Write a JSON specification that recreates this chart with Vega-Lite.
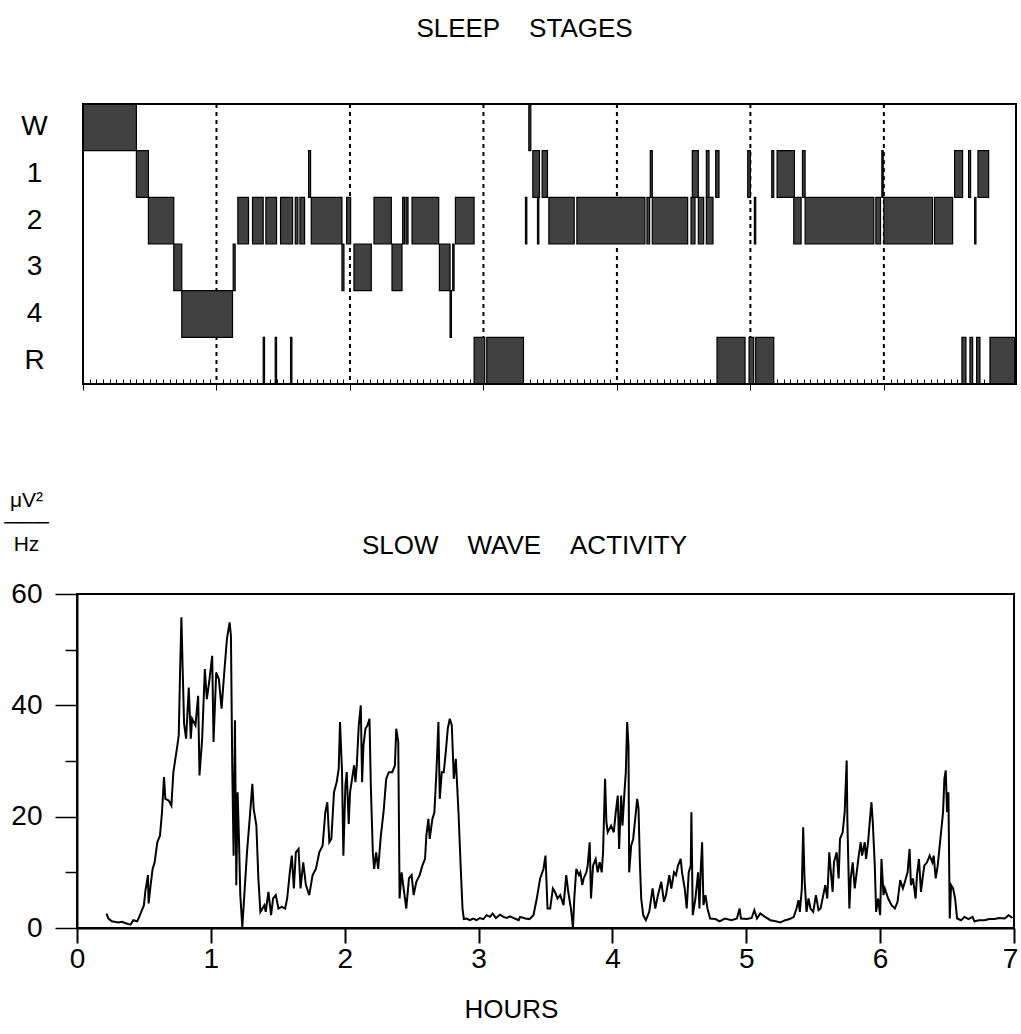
{
  "$schema": "https://vega.github.io/schema/vega-lite/v6.json",
  "padding": {"left": 2, "top": 16, "right": 2, "bottom": 5},
  "background": "white",
  "spacing": 97,
  "config": {
    "font": "Liberation Sans",
    "axis": {"labelColor": "black", "tickColor": "black", "domainColor": "black", "titleColor": "black", "labelFont": "Liberation Sans", "titleFont": "Liberation Sans", "titleFontWeight": "normal", "grid": false},
    "title": {"color": "black", "fontWeight": "normal", "font": "Liberation Sans"}
  },
  "vconcat": [
    {
      "width": 939,
      "height": 280,
      "view": {"stroke": null},
      "title": {"text": "SLEEP\u00a0\u00a0\u00a0\u00a0STAGES", "fontSize": 26, "baseline": "alphabetic", "offset": 40, "dx": -22, "anchor": "middle"},
      "layer": [
        {
          "data": {"values": [{"hour": 1}, {"hour": 2}, {"hour": 3}, {"hour": 4}, {"hour": 5}, {"hour": 6}]},
          "mark": {"type": "rule", "color": "black", "strokeWidth": 2, "strokeDash": [4, 4]},
          "encoding": {"x": {"field": "hour", "type": "quantitative"}}
        },
        {
          "data": {"values": [
            {"stage": "W", "start": 0.0, "end": 0.40},
            {"stage": "1", "start": 0.40, "end": 0.49},
            {"stage": "2", "start": 0.49, "end": 0.68},
            {"stage": "3", "start": 0.68, "end": 0.74},
            {"stage": "4", "start": 0.74, "end": 1.12},
            {"stage": "3", "start": 1.125, "end": 1.14},
            {"stage": "2", "start": 1.16, "end": 1.24},
            {"stage": "2", "start": 1.27, "end": 1.35},
            {"stage": "2", "start": 1.37, "end": 1.45},
            {"stage": "2", "start": 1.48, "end": 1.57},
            {"stage": "2", "start": 1.59, "end": 1.61},
            {"stage": "2", "start": 1.625, "end": 1.66},
            {"stage": "R", "start": 1.35, "end": 1.36},
            {"stage": "R", "start": 1.44, "end": 1.45},
            {"stage": "R", "start": 1.555, "end": 1.565},
            {"stage": "1", "start": 1.69, "end": 1.705},
            {"stage": "2", "start": 1.71, "end": 1.94},
            {"stage": "3", "start": 1.94, "end": 1.955},
            {"stage": "2", "start": 1.975, "end": 2.005},
            {"stage": "3", "start": 2.03, "end": 2.16},
            {"stage": "2", "start": 2.18, "end": 2.31},
            {"stage": "3", "start": 2.315, "end": 2.39},
            {"stage": "2", "start": 2.395, "end": 2.41},
            {"stage": "2", "start": 2.42, "end": 2.435},
            {"stage": "2", "start": 2.465, "end": 2.665},
            {"stage": "3", "start": 2.67, "end": 2.75},
            {"stage": "4", "start": 2.75, "end": 2.76},
            {"stage": "3", "start": 2.77, "end": 2.78},
            {"stage": "2", "start": 2.79, "end": 2.93},
            {"stage": "R", "start": 2.93, "end": 3.01},
            {"stage": "R", "start": 3.025, "end": 3.30},
            {"stage": "2", "start": 3.315, "end": 3.325},
            {"stage": "W", "start": 3.34, "end": 3.355},
            {"stage": "1", "start": 3.37, "end": 3.42},
            {"stage": "2", "start": 3.405, "end": 3.415},
            {"stage": "1", "start": 3.44, "end": 3.48},
            {"stage": "2", "start": 3.49, "end": 3.68},
            {"stage": "2", "start": 3.70, "end": 4.21},
            {"stage": "2", "start": 4.225, "end": 4.245},
            {"stage": "1", "start": 4.25, "end": 4.265},
            {"stage": "2", "start": 4.265, "end": 4.53},
            {"stage": "2", "start": 4.555, "end": 4.585},
            {"stage": "1", "start": 4.565, "end": 4.61},
            {"stage": "2", "start": 4.61, "end": 4.65},
            {"stage": "1", "start": 4.67, "end": 4.69},
            {"stage": "2", "start": 4.67, "end": 4.72},
            {"stage": "1", "start": 4.74, "end": 4.765},
            {"stage": "R", "start": 4.75, "end": 4.96},
            {"stage": "1", "start": 4.98, "end": 5.0},
            {"stage": "R", "start": 4.99, "end": 5.025},
            {"stage": "2", "start": 5.03, "end": 5.04},
            {"stage": "R", "start": 5.04, "end": 5.175},
            {"stage": "1", "start": 5.16, "end": 5.175},
            {"stage": "1", "start": 5.20, "end": 5.33},
            {"stage": "2", "start": 5.325, "end": 5.38},
            {"stage": "1", "start": 5.39, "end": 5.41},
            {"stage": "2", "start": 5.41, "end": 5.925},
            {"stage": "2", "start": 5.94, "end": 5.975},
            {"stage": "1", "start": 5.985, "end": 5.995},
            {"stage": "2", "start": 6.0, "end": 6.365},
            {"stage": "2", "start": 6.38, "end": 6.515},
            {"stage": "1", "start": 6.53, "end": 6.59},
            {"stage": "R", "start": 6.585, "end": 6.615},
            {"stage": "1", "start": 6.635, "end": 6.65},
            {"stage": "R", "start": 6.645, "end": 6.665},
            {"stage": "2", "start": 6.68, "end": 6.69},
            {"stage": "R", "start": 6.695, "end": 6.72},
            {"stage": "1", "start": 6.705, "end": 6.785},
            {"stage": "R", "start": 6.795, "end": 6.98}
          ]},
          "mark": {"type": "rect", "fill": "#404040", "stroke": "black", "strokeWidth": 1.2},
          "encoding": {
            "x": {"field": "start", "type": "quantitative", "scale": {"domain": [-0.045, 6.99], "nice": false, "zero": false},
              "axis": {"title": null, "labels": false, "domain": false, "tickCount": 150, "tickWidth": 1,
                "tickSize": {"condition": {"test": "abs(datum.value - round(datum.value)) < 0.001", "value": 6}, "value": -5}}},
            "x2": {"field": "end"},
            "y": {"field": "stage", "type": "nominal", "scale": {"domain": ["W", "1", "2", "3", "4", "R"], "paddingInner": 0, "paddingOuter": 0},
              "axis": {"title": null, "ticks": false, "domain": false, "labelFontSize": 28, "labelAlign": "center", "labelPadding": 43}}
          }
        },
        {
          "data": {"values": [{}]},
          "mark": {"type": "rect", "fill": null, "stroke": "black", "strokeWidth": 2},
          "encoding": {"x": {"datum": 0}, "x2": {"datum": 6.99}}
        }
      ]
    },
    {
      "width": 937,
      "height": 334,
      "view": {"stroke": "black", "strokeWidth": 2},
      "title": {"text": "SLOW\u00a0\u00a0\u00a0\u00a0WAVE\u00a0\u00a0\u00a0\u00a0ACTIVITY", "fontSize": 26, "baseline": "alphabetic", "offset": -91, "dx": -21, "anchor": "middle"},
      "data": {"values": [
        {"h": 0.22, "v": 2.6}, {"h": 0.235, "v": 1.7}, {"h": 0.26, "v": 1.2}, {"h": 0.31, "v": 1.0}, {"h": 0.335, "v": 1.1},
        {"h": 0.37, "v": 0.8}, {"h": 0.40, "v": 0.6}, {"h": 0.42, "v": 1.4}, {"h": 0.45, "v": 1.2}, {"h": 0.47, "v": 2.3},
        {"h": 0.50, "v": 4.1}, {"h": 0.51, "v": 6.5}, {"h": 0.53, "v": 9.5}, {"h": 0.535, "v": 4.4}, {"h": 0.55, "v": 7.7},
        {"h": 0.565, "v": 10.6}, {"h": 0.58, "v": 11.8}, {"h": 0.60, "v": 15.4}, {"h": 0.62, "v": 16.6}, {"h": 0.635, "v": 20.8},
        {"h": 0.65, "v": 27.1}, {"h": 0.66, "v": 23.2}, {"h": 0.685, "v": 22.9}, {"h": 0.705, "v": 22.0}, {"h": 0.72, "v": 28.0},
        {"h": 0.75, "v": 32.8}, {"h": 0.76, "v": 34.6}, {"h": 0.77, "v": 45.9}, {"h": 0.78, "v": 55.8}, {"h": 0.79, "v": 45.9},
        {"h": 0.80, "v": 36.7}, {"h": 0.815, "v": 34.0}, {"h": 0.835, "v": 43.2}, {"h": 0.85, "v": 34.0}, {"h": 0.86, "v": 37.6},
        {"h": 0.885, "v": 36.4}, {"h": 0.905, "v": 41.7}, {"h": 0.915, "v": 27.4}, {"h": 0.935, "v": 34.0}, {"h": 0.955, "v": 46.5},
        {"h": 0.97, "v": 41.1}, {"h": 0.99, "v": 44.7}, {"h": 1.01, "v": 48.9}, {"h": 1.02, "v": 33.4}, {"h": 1.04, "v": 45.9},
        {"h": 1.06, "v": 44.7}, {"h": 1.08, "v": 39.4}, {"h": 1.10, "v": 45.9}, {"h": 1.12, "v": 51.9}, {"h": 1.14, "v": 54.9},
        {"h": 1.15, "v": 52.5}, {"h": 1.16, "v": 28.6}, {"h": 1.17, "v": 13.0}, {"h": 1.18, "v": 37.3}, {"h": 1.19, "v": 7.7},
        {"h": 1.20, "v": 24.4}, {"h": 1.21, "v": 16.0}, {"h": 1.22, "v": 5.9}, {"h": 1.235, "v": 0.2}, {"h": 1.25, "v": 5.9},
        {"h": 1.27, "v": 13.6}, {"h": 1.29, "v": 19.6}, {"h": 1.31, "v": 25.9}, {"h": 1.32, "v": 21.4}, {"h": 1.34, "v": 18.4},
        {"h": 1.355, "v": 8.9}, {"h": 1.37, "v": 2.9}, {"h": 1.40, "v": 4.1}, {"h": 1.41, "v": 2.9}, {"h": 1.43, "v": 6.5},
        {"h": 1.45, "v": 2.3}, {"h": 1.465, "v": 5.3}, {"h": 1.485, "v": 5.9}, {"h": 1.505, "v": 3.5}, {"h": 1.53, "v": 3.8},
        {"h": 1.555, "v": 3.5}, {"h": 1.57, "v": 5.3}, {"h": 1.59, "v": 10.0}, {"h": 1.605, "v": 13.0}, {"h": 1.62, "v": 7.1},
        {"h": 1.635, "v": 13.6}, {"h": 1.655, "v": 14.2}, {"h": 1.67, "v": 7.1}, {"h": 1.69, "v": 11.8}, {"h": 1.71, "v": 7.7},
        {"h": 1.735, "v": 5.9}, {"h": 1.76, "v": 9.5}, {"h": 1.785, "v": 10.6}, {"h": 1.81, "v": 13.6}, {"h": 1.835, "v": 14.8},
        {"h": 1.855, "v": 20.8}, {"h": 1.87, "v": 22.6}, {"h": 1.885, "v": 15.4}, {"h": 1.90, "v": 16.0}, {"h": 1.92, "v": 24.4},
        {"h": 1.94, "v": 26.2}, {"h": 1.955, "v": 28.6}, {"h": 1.965, "v": 37.0}, {"h": 1.98, "v": 28.0}, {"h": 1.99, "v": 13.0},
        {"h": 2.005, "v": 25.6}, {"h": 2.015, "v": 28.0}, {"h": 2.03, "v": 18.7}, {"h": 2.04, "v": 24.4}, {"h": 2.055, "v": 26.8},
        {"h": 2.07, "v": 29.2}, {"h": 2.08, "v": 26.2}, {"h": 2.09, "v": 29.2}, {"h": 2.105, "v": 36.4}, {"h": 2.12, "v": 40.0},
        {"h": 2.13, "v": 26.2}, {"h": 2.14, "v": 32.8}, {"h": 2.155, "v": 35.8}, {"h": 2.17, "v": 36.4}, {"h": 2.185, "v": 37.6},
        {"h": 2.195, "v": 25.6}, {"h": 2.21, "v": 13.6}, {"h": 2.22, "v": 10.6}, {"h": 2.235, "v": 13.6}, {"h": 2.25, "v": 10.6},
        {"h": 2.27, "v": 16.6}, {"h": 2.29, "v": 20.8}, {"h": 2.31, "v": 26.8}, {"h": 2.33, "v": 28.0}, {"h": 2.355, "v": 28.0},
        {"h": 2.375, "v": 29.2}, {"h": 2.385, "v": 35.8}, {"h": 2.40, "v": 33.4}, {"h": 2.41, "v": 5.3}, {"h": 2.425, "v": 10.0},
        {"h": 2.44, "v": 7.1}, {"h": 2.46, "v": 3.5}, {"h": 2.48, "v": 8.9}, {"h": 2.50, "v": 9.5}, {"h": 2.515, "v": 5.9},
        {"h": 2.535, "v": 8.3}, {"h": 2.56, "v": 9.5}, {"h": 2.58, "v": 11.2}, {"h": 2.60, "v": 12.4}, {"h": 2.61, "v": 16.6},
        {"h": 2.625, "v": 19.6}, {"h": 2.635, "v": 16.0}, {"h": 2.655, "v": 19.6}, {"h": 2.67, "v": 20.8}, {"h": 2.685, "v": 28.0},
        {"h": 2.70, "v": 37.0}, {"h": 2.71, "v": 23.2}, {"h": 2.725, "v": 28.0}, {"h": 2.74, "v": 28.0}, {"h": 2.755, "v": 31.6},
        {"h": 2.77, "v": 35.8}, {"h": 2.785, "v": 37.6}, {"h": 2.80, "v": 36.4}, {"h": 2.815, "v": 26.8}, {"h": 2.83, "v": 30.4},
        {"h": 2.85, "v": 20.8}, {"h": 2.865, "v": 11.8}, {"h": 2.88, "v": 3.5}, {"h": 2.89, "v": 1.6}, {"h": 2.91, "v": 1.7},
        {"h": 2.935, "v": 1.4}, {"h": 2.96, "v": 1.7}, {"h": 2.985, "v": 1.4}, {"h": 3.01, "v": 1.8}, {"h": 3.035, "v": 1.6},
        {"h": 3.06, "v": 2.3}, {"h": 3.085, "v": 2.0}, {"h": 3.105, "v": 2.6}, {"h": 3.13, "v": 1.8}, {"h": 3.16, "v": 2.4},
        {"h": 3.185, "v": 2.0}, {"h": 3.21, "v": 1.8}, {"h": 3.235, "v": 2.1}, {"h": 3.27, "v": 1.7}, {"h": 3.30, "v": 1.4},
        {"h": 3.31, "v": 2.0}, {"h": 3.35, "v": 1.7}, {"h": 3.38, "v": 1.6}, {"h": 3.41, "v": 2.3}, {"h": 3.435, "v": 5.3},
        {"h": 3.46, "v": 8.9}, {"h": 3.485, "v": 10.6}, {"h": 3.50, "v": 13.0}, {"h": 3.515, "v": 3.5}, {"h": 3.535, "v": 3.5},
        {"h": 3.555, "v": 7.1}, {"h": 3.57, "v": 6.5}, {"h": 3.59, "v": 5.3}, {"h": 3.61, "v": 5.9}, {"h": 3.635, "v": 4.1},
        {"h": 3.655, "v": 9.5}, {"h": 3.67, "v": 6.5}, {"h": 3.69, "v": 3.5}, {"h": 3.705, "v": 0.0}, {"h": 3.715, "v": 5.3},
        {"h": 3.73, "v": 10.6}, {"h": 3.75, "v": 9.5}, {"h": 3.76, "v": 10.0}, {"h": 3.775, "v": 7.7}, {"h": 3.785, "v": 8.9},
        {"h": 3.805, "v": 10.0}, {"h": 3.815, "v": 11.2}, {"h": 3.83, "v": 15.4}, {"h": 3.84, "v": 5.3}, {"h": 3.855, "v": 11.2},
        {"h": 3.875, "v": 12.4}, {"h": 3.89, "v": 10.0}, {"h": 3.905, "v": 11.8}, {"h": 3.92, "v": 10.0}, {"h": 3.93, "v": 13.6},
        {"h": 3.945, "v": 26.8}, {"h": 3.955, "v": 19.0}, {"h": 3.965, "v": 17.2}, {"h": 3.99, "v": 18.4}, {"h": 4.01, "v": 17.2},
        {"h": 4.025, "v": 20.8}, {"h": 4.04, "v": 23.8}, {"h": 4.05, "v": 14.2}, {"h": 4.065, "v": 23.8}, {"h": 4.075, "v": 18.4},
        {"h": 4.09, "v": 24.4}, {"h": 4.10, "v": 28.0}, {"h": 4.11, "v": 37.0}, {"h": 4.12, "v": 32.8}, {"h": 4.125, "v": 10.0},
        {"h": 4.14, "v": 14.8}, {"h": 4.155, "v": 16.0}, {"h": 4.17, "v": 19.6}, {"h": 4.185, "v": 23.2}, {"h": 4.195, "v": 21.4},
        {"h": 4.205, "v": 11.8}, {"h": 4.215, "v": 5.3}, {"h": 4.23, "v": 2.3}, {"h": 4.25, "v": 1.4}, {"h": 4.275, "v": 2.9},
        {"h": 4.30, "v": 7.1}, {"h": 4.32, "v": 3.5}, {"h": 4.34, "v": 5.9}, {"h": 4.365, "v": 8.3}, {"h": 4.385, "v": 4.7},
        {"h": 4.40, "v": 5.9}, {"h": 4.425, "v": 9.5}, {"h": 4.44, "v": 7.1}, {"h": 4.46, "v": 10.0}, {"h": 4.475, "v": 9.5},
        {"h": 4.49, "v": 11.2}, {"h": 4.51, "v": 12.4}, {"h": 4.52, "v": 10.0}, {"h": 4.54, "v": 7.1}, {"h": 4.555, "v": 3.5},
        {"h": 4.57, "v": 10.0}, {"h": 4.585, "v": 11.2}, {"h": 4.59, "v": 20.8}, {"h": 4.60, "v": 2.3}, {"h": 4.62, "v": 5.3},
        {"h": 4.64, "v": 10.0}, {"h": 4.65, "v": 3.5}, {"h": 4.66, "v": 10.6}, {"h": 4.67, "v": 15.4}, {"h": 4.68, "v": 4.1},
        {"h": 4.695, "v": 5.9}, {"h": 4.71, "v": 3.5}, {"h": 4.73, "v": 1.7}, {"h": 4.77, "v": 1.6}, {"h": 4.80, "v": 1.2},
        {"h": 4.84, "v": 1.7}, {"h": 4.89, "v": 1.4}, {"h": 4.93, "v": 1.7}, {"h": 4.95, "v": 3.5}, {"h": 4.96, "v": 1.7},
        {"h": 5.005, "v": 1.6}, {"h": 5.04, "v": 1.8}, {"h": 5.06, "v": 3.2}, {"h": 5.08, "v": 1.7}, {"h": 5.105, "v": 2.6},
        {"h": 5.14, "v": 2.0}, {"h": 5.18, "v": 1.4}, {"h": 5.22, "v": 1.2}, {"h": 5.255, "v": 1.0}, {"h": 5.29, "v": 1.4},
        {"h": 5.325, "v": 1.6}, {"h": 5.355, "v": 2.0}, {"h": 5.375, "v": 3.5}, {"h": 5.39, "v": 5.0}, {"h": 5.40, "v": 2.9},
        {"h": 5.415, "v": 7.1}, {"h": 5.425, "v": 18.1}, {"h": 5.435, "v": 8.9}, {"h": 5.45, "v": 2.9}, {"h": 5.465, "v": 5.3},
        {"h": 5.48, "v": 3.5}, {"h": 5.50, "v": 2.9}, {"h": 5.52, "v": 5.9}, {"h": 5.54, "v": 3.2}, {"h": 5.555, "v": 3.5},
        {"h": 5.575, "v": 5.9}, {"h": 5.59, "v": 7.7}, {"h": 5.605, "v": 5.3}, {"h": 5.62, "v": 13.6}, {"h": 5.63, "v": 10.6},
        {"h": 5.645, "v": 6.5}, {"h": 5.655, "v": 11.8}, {"h": 5.675, "v": 13.6}, {"h": 5.69, "v": 8.9}, {"h": 5.70, "v": 16.0},
        {"h": 5.72, "v": 17.2}, {"h": 5.735, "v": 20.8}, {"h": 5.75, "v": 30.1}, {"h": 5.755, "v": 19.6}, {"h": 5.77, "v": 3.5},
        {"h": 5.78, "v": 8.9}, {"h": 5.795, "v": 11.8}, {"h": 5.81, "v": 7.1}, {"h": 5.825, "v": 10.0}, {"h": 5.84, "v": 13.0},
        {"h": 5.855, "v": 15.4}, {"h": 5.865, "v": 13.0}, {"h": 5.885, "v": 15.4}, {"h": 5.895, "v": 12.4}, {"h": 5.91, "v": 15.4},
        {"h": 5.92, "v": 18.4}, {"h": 5.935, "v": 22.6}, {"h": 5.945, "v": 19.0}, {"h": 5.96, "v": 11.2}, {"h": 5.97, "v": 2.9},
        {"h": 5.985, "v": 5.3}, {"h": 6.00, "v": 2.3}, {"h": 6.01, "v": 12.4}, {"h": 6.025, "v": 5.9}, {"h": 6.035, "v": 7.1},
        {"h": 6.06, "v": 5.3}, {"h": 6.085, "v": 4.1}, {"h": 6.11, "v": 3.5}, {"h": 6.13, "v": 4.7}, {"h": 6.15, "v": 8.6},
        {"h": 6.17, "v": 7.1}, {"h": 6.185, "v": 8.3}, {"h": 6.205, "v": 10.0}, {"h": 6.22, "v": 14.2}, {"h": 6.23, "v": 7.7},
        {"h": 6.245, "v": 8.9}, {"h": 6.265, "v": 5.3}, {"h": 6.275, "v": 9.5}, {"h": 6.29, "v": 12.4}, {"h": 6.305, "v": 6.5},
        {"h": 6.32, "v": 9.5}, {"h": 6.33, "v": 11.2}, {"h": 6.35, "v": 11.8}, {"h": 6.37, "v": 13.0}, {"h": 6.39, "v": 11.8},
        {"h": 6.40, "v": 13.0}, {"h": 6.415, "v": 8.9}, {"h": 6.43, "v": 11.2}, {"h": 6.44, "v": 13.6}, {"h": 6.455, "v": 17.2},
        {"h": 6.47, "v": 20.8}, {"h": 6.48, "v": 26.8}, {"h": 6.49, "v": 28.3}, {"h": 6.50, "v": 20.8}, {"h": 6.51, "v": 24.4},
        {"h": 6.52, "v": 1.7}, {"h": 6.53, "v": 7.7}, {"h": 6.545, "v": 7.1}, {"h": 6.56, "v": 5.3}, {"h": 6.575, "v": 1.7},
        {"h": 6.605, "v": 1.4}, {"h": 6.63, "v": 2.0}, {"h": 6.66, "v": 1.6}, {"h": 6.69, "v": 2.0}, {"h": 6.705, "v": 1.2},
        {"h": 6.74, "v": 1.4}, {"h": 6.78, "v": 1.4}, {"h": 6.815, "v": 1.6}, {"h": 6.855, "v": 1.6}, {"h": 6.89, "v": 1.8},
        {"h": 6.93, "v": 1.7}, {"h": 6.96, "v": 2.3}, {"h": 6.99, "v": 1.8}
      ]},
      "mark": {"type": "line", "color": "black", "strokeWidth": 2},
      "encoding": {
        "x": {"field": "h", "type": "quantitative", "scale": {"domain": [0, 7], "nice": false},
          "axis": {"values": [0, 1, 2, 3, 4, 5, 6, 7], "title": "HOURS", "titleFontSize": 26, "titleX": 434, "titleY": 89, "titleBaseline": "alphabetic", "titleAlign": "center", "titleAnchor": null,
            "tickSize": 15, "tickWidth": 2, "domainWidth": 2, "labelFontSize": 28, "labelPadding": 2, "labelFlush": false,
            "labelOffset": {"condition": {"test": "datum.value === 7", "value": -4}, "value": 0}}},
        "y": {"field": "v", "type": "quantitative", "scale": {"domain": [0, 60], "nice": false},
          "axis": {"values": [0, 10, 20, 30, 40, 50, 60], "labelExpr": "datum.value % 20 === 0 ? datum.label : ''",
            "tickSize": {"condition": {"test": "datum.value % 20 === 0", "value": 22}, "value": 12}, "tickWidth": 1.5, "domainWidth": 2,
            "labelFontSize": 28, "labelPadding": 13, "labelFlush": false,
            "title": ["\u03bcV\u00b2", "\u2500\u2500\u2500", "Hz"], "titleFontSize": 21, "titleAngle": 0, "titleAlign": "center", "titleBaseline": "alphabetic", "titleX": -51, "titleY": -88, "titleLineHeight": 22}}
      }
    }
  ]
}
